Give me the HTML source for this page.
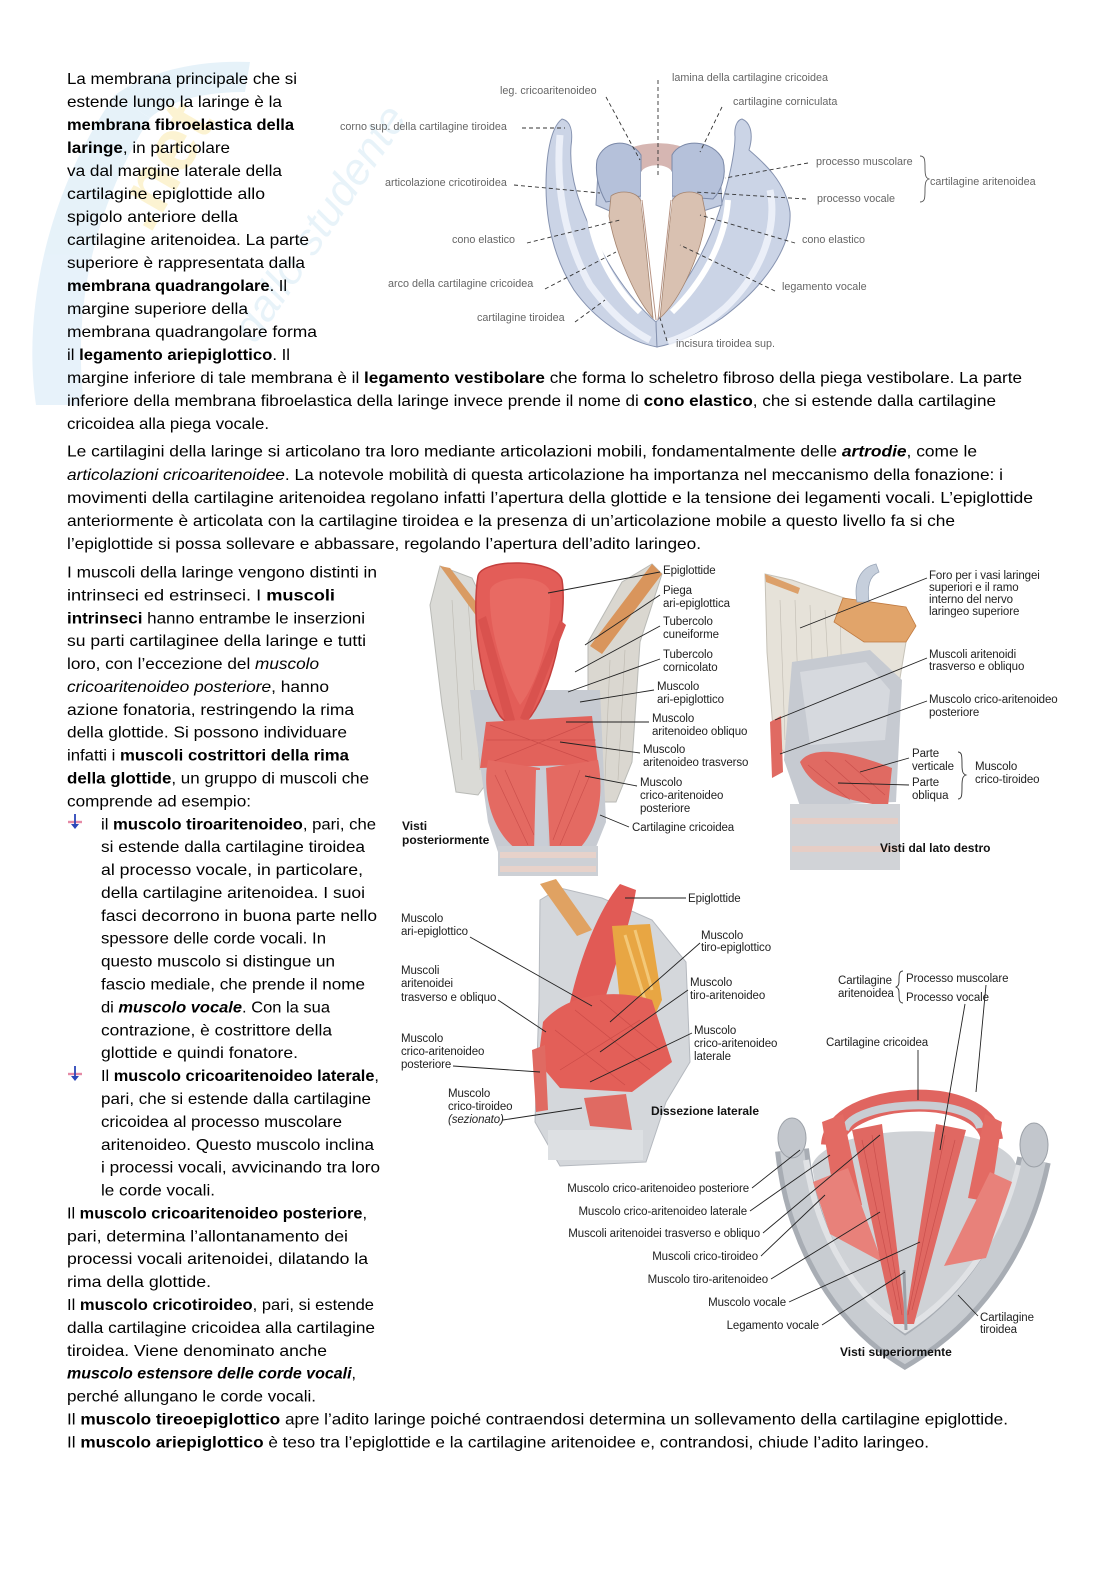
<!DOCTYPE html>
<html>
<head>
<meta charset="utf-8">
<style>
html,body{margin:0;padding:0;background:#fff;}
svg{display:block;}
.t{font-family:"Liberation Sans",Arial,sans-serif;font-size:16px;fill:#000;}
.l1{font-family:"Liberation Sans",Arial,sans-serif;font-size:10.8px;fill:#666;}
.l2{font-family:"Liberation Sans",Arial,sans-serif;font-size:11.5px;fill:#222;letter-spacing:-0.1px;}
.cap{font-family:"Liberation Sans",Arial,sans-serif;font-size:12px;font-weight:bold;fill:#111;}
.dl{stroke:#333;stroke-width:0.9;stroke-dasharray:4,3;fill:none;}
.ln{stroke:#222;stroke-width:0.9;fill:none;}
.fib{stroke:#b83a3a;stroke-width:0.7;opacity:0.55;fill:none;}
.fibg{stroke:#a9a49a;stroke-width:0.6;opacity:0.6;fill:none;}
</style>
</head>
<body>
<svg width="1116" height="1579" viewBox="0 0 1116 1579" xmlns="http://www.w3.org/2000/svg">
<rect width="1116" height="1579" fill="#fff"/>

<!-- watermark -->
<g opacity="0.5">
  <path d="M36,405 C22,310 48,190 115,95 L150,118 C95,205 72,305 84,405 Z" fill="#cfe6f5"/>
  <path d="M115,95 C150,70 200,60 250,62 L245,92 C205,92 170,100 150,118 Z" fill="#cfe6f5"/>
  <text transform="translate(150,235) rotate(-60)" font-family="Liberation Sans, sans-serif" font-size="74" font-weight="bold" fill="#fbe9a6">.net</text>
  <text transform="translate(255,345) rotate(-56)" font-family="Liberation Sans, sans-serif" font-size="44" font-style="italic" fill="#d3e8f5">dallo studente</text>
</g>

<!-- ============ TEXT: upper column ============ -->
<g class="t">
<text x="67" y="84" textLength="230" lengthAdjust="spacingAndGlyphs">La membrana principale che si</text>
<text x="67" y="107" textLength="215" lengthAdjust="spacingAndGlyphs">estende lungo la laringe è la</text>
<text x="67" y="130" textLength="227" lengthAdjust="spacingAndGlyphs" font-weight="bold">membrana fibroelastica della</text>
<text x="67" y="153" textLength="163" lengthAdjust="spacingAndGlyphs"><tspan font-weight="bold">laringe</tspan>, in particolare</text>
<text x="67" y="176" textLength="215" lengthAdjust="spacingAndGlyphs">va dal margine laterale della</text>
<text x="67" y="199" textLength="198" lengthAdjust="spacingAndGlyphs">cartilagine epiglottide allo</text>
<text x="67" y="222" textLength="171" lengthAdjust="spacingAndGlyphs">spigolo anteriore della</text>
<text x="67" y="245" textLength="242" lengthAdjust="spacingAndGlyphs">cartilagine aritenoidea. La parte</text>
<text x="67" y="268" textLength="238" lengthAdjust="spacingAndGlyphs">superiore è rappresentata dalla</text>
<text x="67" y="291" textLength="220" lengthAdjust="spacingAndGlyphs"><tspan font-weight="bold">membrana quadrangolare</tspan>. Il</text>
<text x="67" y="314" textLength="181" lengthAdjust="spacingAndGlyphs">margine superiore della</text>
<text x="67" y="337" textLength="250" lengthAdjust="spacingAndGlyphs">membrana quadrangolare forma</text>
<text x="67" y="360" textLength="223" lengthAdjust="spacingAndGlyphs">il <tspan font-weight="bold">legamento ariepiglottico</tspan>. Il</text>
<text x="67" y="383" textLength="955" lengthAdjust="spacingAndGlyphs">margine inferiore di tale membrana è il <tspan font-weight="bold">legamento vestibolare</tspan> che forma lo scheletro fibroso della piega vestibolare. La parte</text>
<text x="67" y="406" textLength="929" lengthAdjust="spacingAndGlyphs">inferiore della membrana fibroelastica della laringe invece prende il nome di <tspan font-weight="bold">cono elastico</tspan>, che si estende dalla cartilagine</text>
<text x="67" y="429" textLength="202" lengthAdjust="spacingAndGlyphs">cricoidea alla piega vocale.</text>

<text x="67" y="456.7" textLength="910" lengthAdjust="spacingAndGlyphs">Le cartilagini della laringe si articolano tra loro mediante articolazioni mobili, fondamentalmente delle <tspan font-weight="bold" font-style="italic">artrodie</tspan>, come le</text>
<text x="67" y="479.8" textLength="936" lengthAdjust="spacingAndGlyphs"><tspan font-style="italic">articolazioni cricoaritenoidee</tspan>. La notevole mobilità di questa articolazione ha importanza nel meccanismo della fonazione: i</text>
<text x="67" y="502.9" textLength="966" lengthAdjust="spacingAndGlyphs">movimenti della cartilagine aritenoidea regolano infatti l’apertura della glottide e la tensione dei legamenti vocali. L’epiglottide</text>
<text x="67" y="526" textLength="888" lengthAdjust="spacingAndGlyphs">anteriormente è articolata con la cartilagine tiroidea e la presenza di un’articolazione mobile a questo livello fa si che</text>
<text x="67" y="549.1" textLength="634" lengthAdjust="spacingAndGlyphs">l’epiglottide si possa sollevare e abbassare, regolando l’apertura dell’adito laringeo.</text>

<!-- lower column -->
<text x="67" y="577.5" textLength="310" lengthAdjust="spacingAndGlyphs">I muscoli della laringe vengono distinti in</text>
<text x="67" y="600.4" textLength="268" lengthAdjust="spacingAndGlyphs">intrinseci ed estrinseci. I <tspan font-weight="bold">muscoli</tspan></text>
<text x="67" y="623.3" textLength="298" lengthAdjust="spacingAndGlyphs"><tspan font-weight="bold">intrinseci</tspan> hanno entrambe le inserzioni</text>
<text x="67" y="646.2" textLength="299" lengthAdjust="spacingAndGlyphs">su parti cartilaginee della laringe e tutti</text>
<text x="67" y="669.1" textLength="252" lengthAdjust="spacingAndGlyphs">loro, con l’eccezione del <tspan font-style="italic">muscolo</tspan></text>
<text x="67" y="691.9" textLength="262" lengthAdjust="spacingAndGlyphs"><tspan font-style="italic">cricoaritenoideo posteriore</tspan>, hanno</text>
<text x="67" y="714.8" textLength="287" lengthAdjust="spacingAndGlyphs">azione fonatoria, restringendo la rima</text>
<text x="67" y="737.7" textLength="280" lengthAdjust="spacingAndGlyphs">della glottide. Si possono individuare</text>
<text x="67" y="760.6" textLength="282" lengthAdjust="spacingAndGlyphs">infatti i <tspan font-weight="bold">muscoli costrittori della rima</tspan></text>
<text x="67" y="783.5" textLength="302" lengthAdjust="spacingAndGlyphs"><tspan font-weight="bold">della glottide</tspan>, un gruppo di muscoli che</text>
<text x="67" y="806.4" textLength="184" lengthAdjust="spacingAndGlyphs">comprende ad esempio:</text>
<text x="101" y="829.3" textLength="275" lengthAdjust="spacingAndGlyphs">il <tspan font-weight="bold">muscolo tiroaritenoideo</tspan>, pari, che</text>
<text x="101" y="852.2" textLength="264" lengthAdjust="spacingAndGlyphs">si estende dalla cartilagine tiroidea</text>
<text x="101" y="875.1" textLength="262" lengthAdjust="spacingAndGlyphs">al processo vocale, in particolare,</text>
<text x="101" y="898" textLength="264" lengthAdjust="spacingAndGlyphs">della cartilagine aritenoidea. I suoi</text>
<text x="101" y="920.9" textLength="276" lengthAdjust="spacingAndGlyphs">fasci decorrono in buona parte nello</text>
<text x="101" y="943.7" textLength="225" lengthAdjust="spacingAndGlyphs">spessore delle corde vocali. In</text>
<text x="101" y="966.6" textLength="234" lengthAdjust="spacingAndGlyphs">questo muscolo si distingue un</text>
<text x="101" y="989.5" textLength="264" lengthAdjust="spacingAndGlyphs">fascio mediale, che prende il nome</text>
<text x="101" y="1012.4" textLength="229" lengthAdjust="spacingAndGlyphs">di <tspan font-weight="bold" font-style="italic">muscolo vocale</tspan>. Con la sua</text>
<text x="101" y="1035.3" textLength="231" lengthAdjust="spacingAndGlyphs">contrazione, è costrittore della</text>
<text x="101" y="1058.2" textLength="197" lengthAdjust="spacingAndGlyphs">glottide e quindi fonatore.</text>
<text x="101" y="1081.1" textLength="278" lengthAdjust="spacingAndGlyphs">Il <tspan font-weight="bold">muscolo cricoaritenoideo laterale</tspan>,</text>
<text x="101" y="1104" textLength="270" lengthAdjust="spacingAndGlyphs">pari, che si estende dalla cartilagine</text>
<text x="101" y="1126.9" textLength="241" lengthAdjust="spacingAndGlyphs">cricoidea al processo muscolare</text>
<text x="101" y="1149.8" textLength="273" lengthAdjust="spacingAndGlyphs">aritenoideo. Questo muscolo inclina</text>
<text x="101" y="1172.6" textLength="279" lengthAdjust="spacingAndGlyphs">i processi vocali, avvicinando tra loro</text>
<text x="101" y="1195.5" textLength="114" lengthAdjust="spacingAndGlyphs">le corde vocali.</text>
<text x="67" y="1218.4" textLength="300" lengthAdjust="spacingAndGlyphs">Il <tspan font-weight="bold">muscolo cricoaritenoideo posteriore</tspan>,</text>
<text x="67" y="1241.3" textLength="281" lengthAdjust="spacingAndGlyphs">pari, determina l’allontanamento dei</text>
<text x="67" y="1264.2" textLength="301" lengthAdjust="spacingAndGlyphs">processi vocali aritenoidei, dilatando la</text>
<text x="67" y="1287.1" textLength="144" lengthAdjust="spacingAndGlyphs">rima della glottide.</text>
<text x="67" y="1310" textLength="307" lengthAdjust="spacingAndGlyphs">Il <tspan font-weight="bold">muscolo cricotiroideo</tspan>, pari, si estende</text>
<text x="67" y="1332.9" textLength="308" lengthAdjust="spacingAndGlyphs">dalla cartilagine cricoidea alla cartilagine</text>
<text x="67" y="1355.8" textLength="260" lengthAdjust="spacingAndGlyphs">tiroidea. Viene denominato anche</text>
<text x="67" y="1378.7" textLength="289" lengthAdjust="spacingAndGlyphs"><tspan font-weight="bold" font-style="italic">muscolo estensore delle corde vocali</tspan>,</text>
<text x="67" y="1401.5" textLength="249" lengthAdjust="spacingAndGlyphs">perché allungano le corde vocali.</text>
<text x="67" y="1424.4" textLength="941" lengthAdjust="spacingAndGlyphs">Il <tspan font-weight="bold">muscolo tireoepiglottico</tspan> apre l’adito laringe poiché contraendosi determina un sollevamento della cartilagine epiglottide.</text>
<text x="67" y="1447.3" textLength="862" lengthAdjust="spacingAndGlyphs">Il <tspan font-weight="bold">muscolo ariepiglottico</tspan> è teso tra l’epiglottide e la cartilagine aritenoidee e, contrandosi, chiude l’adito laringeo.</text>
</g>

<!-- bullets -->
<g>
  <line x1="68" y1="822" x2="82" y2="822" stroke="#e58aa6" stroke-width="2.4"/>
  <line x1="75" y1="814" x2="75" y2="827" stroke="#2b46b8" stroke-width="1.8"/>
  <path d="M71,824 L79,824 L75,829 Z" fill="#2b46b8"/>
  <line x1="68" y1="1074" x2="82" y2="1074" stroke="#e58aa6" stroke-width="2.4"/>
  <line x1="75" y1="1066" x2="75" y2="1079" stroke="#2b46b8" stroke-width="1.8"/>
  <path d="M71,1076 L79,1076 L75,1081 Z" fill="#2b46b8"/>
</g>

<!-- ============ FIG 1 ============ -->
<g>
  <path d="M562,119 C571,121 573,132 571,146 C569,176 579,206 596,240 C613,275 636,305 656,322 L657,347 C625,341 594,318 574,290 C555,260 546,225 546,186 C546,158 550,128 562,119 Z" fill="#cbd4e6" stroke="#8693b0" stroke-width="1"/>
  <path d="M560,135 C556,180 562,235 590,285 C610,312 630,330 650,340" stroke="#eef2f9" stroke-width="7" fill="none" opacity="0.9"/>
  <path d="M742,119 C752,123 753,137 749,150 C763,162 786,182 790,212 C792,247 765,286 722,318 C697,335 673,344 657,347 L656,322 C681,292 706,252 719,212 C729,182 735,152 735,137 C734,127 737,120 742,119 Z" fill="#cbd4e6" stroke="#8693b0" stroke-width="1"/>
  <path d="M770,190 C778,230 760,275 725,308 C705,325 685,337 668,342" stroke="#eef2f9" stroke-width="7" fill="none" opacity="0.9"/>
  <path d="M588,200 C590,245 612,285 640,312" stroke="#fff" stroke-width="6" fill="none"/>
  <path d="M728,200 C725,245 700,285 672,312" stroke="#fff" stroke-width="6" fill="none"/>
  <path d="M598,172 C598,138 716,138 720,172 L722,205 L700,212 L612,212 L596,205 Z" fill="#c1cbe0" stroke="#8693b0"/>
  <path d="M628,150 C640,141 676,141 688,150 L682,176 L634,176 Z" fill="#d6b6b2"/>
  <path d="M597,160 C604,139 630,138 641,155 L641,196 L606,202 C598,188 595,173 597,160 Z" fill="#b5c1da" stroke="#7b89a8"/>
  <path d="M672,155 C681,138 713,139 723,160 C727,176 721,191 713,199 L672,196 Z" fill="#b5c1da" stroke="#7b89a8"/>
  <path d="M611,196 C618,190 636,190 641,201 L653,318 C636,300 615,252 609,216 Z" fill="#d9c1b1" stroke="#a4846f" stroke-width="0.8"/>
  <path d="M702,196 C695,190 678,190 672,201 L660,318 C681,299 702,252 706,216 Z" fill="#d9c1b1" stroke="#a4846f" stroke-width="0.8"/>
  <path d="M641,172 C646,163 668,163 672,172 L672,202 L657,322 L641,202 Z" fill="#fff"/>
  <line x1="642" y1="200" x2="656" y2="320" stroke="#b89484" stroke-width="1"/>
  <line x1="671" y1="200" x2="658" y2="320" stroke="#b89484" stroke-width="1"/>

  <line class="dl" x1="658" y1="80" x2="658" y2="175"/>
  <line class="dl" x1="606" y1="97" x2="640" y2="160"/>
  <line class="dl" x1="722" y1="107" x2="700" y2="152"/>
  <line class="dl" x1="522" y1="128" x2="565" y2="128"/>
  <line class="dl" x1="808" y1="163" x2="725" y2="178"/>
  <line class="dl" x1="514" y1="185" x2="600" y2="193"/>
  <line class="dl" x1="806" y1="199" x2="695" y2="192"/>
  <line class="dl" x1="527" y1="243" x2="620" y2="220"/>
  <line class="dl" x1="795" y1="243" x2="700" y2="215"/>
  <line class="dl" x1="545" y1="289" x2="616" y2="252"/>
  <line class="dl" x1="775" y1="291" x2="680" y2="245"/>
  <line class="dl" x1="575" y1="322" x2="605" y2="300"/>
  <line class="dl" x1="667" y1="341" x2="660" y2="318"/>
  <path d="M920,156 C925,156 925,160 925,168 C925,176 926,178 929,179 C926,180 925,182 925,190 C925,198 925,202 920,202" fill="none" stroke="#555" stroke-width="0.9"/>

  <g class="l1">
    <text x="672" y="81">lamina della cartilagine cricoidea</text>
    <text x="500" y="94">leg. cricoaritenoideo</text>
    <text x="733" y="105">cartilagine corniculata</text>
    <text x="340" y="130">corno sup. della cartilagine tiroidea</text>
    <text x="816" y="165">processo muscolare</text>
    <text x="930" y="185">cartilagine aritenoidea</text>
    <text x="385" y="186">articolazione cricotiroidea</text>
    <text x="817" y="202">processo vocale</text>
    <text x="452" y="243">cono  elastico</text>
    <text x="802" y="243">cono  elastico</text>
    <text x="388" y="287">arco della cartilagine cricoidea</text>
    <text x="782" y="290">legamento vocale</text>
    <text x="477" y="321">cartilagine tiroidea</text>
    <text x="676" y="347">incisura tiroidea sup.</text>
  </g>
</g>

<!-- ============ FIG 2 left: posterior view ============ -->
<g>
  <path d="M440,566 L472,578 L502,640 L502,762 L478,795 L456,792 L442,705 L430,605 Z" fill="#dadad6" stroke="#b9bab6"/>
  <path d="M452,600 L462,760 M468,600 L480,770 M485,620 L492,770" class="fibg"/>
  <path d="M440,566 L450,568 L496,628 L488,632 Z" fill="#d99b63"/>
  <path d="M652,564 L662,574 L640,642 L632,762 L616,802 L588,802 L588,642 L622,582 Z" fill="#dad7d0" stroke="#b9bab6"/>
  <path d="M652,564 L662,574 L602,654 L590,646 Z" fill="#d9955c"/>
  <path d="M610,660 L605,780 M625,650 L618,780" class="fibg"/>
  <path d="M470,690 L600,690 L606,822 L594,852 L498,852 L488,822 Z" fill="#c7cbd2"/>
  <path d="M478,576 C482,558 556,558 562,580 C567,612 556,680 531,716 C521,728 510,728 500,716 C478,682 472,612 478,576 Z" fill="#e35d58" stroke="#c43f3d" stroke-width="1.5"/>
  <path d="M490,590 C495,575 545,573 550,592 C552,630 540,680 520,705 C505,680 488,630 490,590 Z" fill="#e86a63"/>
  <path d="M478,620 L486,616 L515,720 L506,724 Z" fill="#d9524e"/>
  <path d="M560,620 L566,625 L528,722 L520,718 Z" fill="#d9524e"/>
  <path d="M486,722 L592,716 L598,764 L480,768 Z" fill="#e2625b"/>
  <path d="M490,725 L590,762 M492,762 L590,722 M486,740 L596,740" class="fib"/>
  <path d="M488,760 C482,790 490,832 520,852 L536,852 L540,768 Z" fill="#e46a62"/>
  <path d="M546,768 L550,852 L576,852 C600,830 604,792 598,760 Z" fill="#e46a62"/>
  <path d="M495,775 L528,845 M505,770 L534,835 M590,775 L560,845 M580,770 L553,840" class="fib"/>
  <path d="M536,770 L546,770 L548,852 L534,852 Z" fill="#c9ced6"/>
  <rect x="498" y="846" width="100" height="30" fill="#cdd0d5"/>
  <rect x="500" y="852" width="96" height="6" fill="#e7d2ca"/>
  <rect x="500" y="866" width="96" height="6" fill="#e7d2ca"/>
</g>

<!-- ============ FIG 2 right: lateral view ============ -->
<g>
  <path d="M765,574 L792,580 L850,600 L906,614 L906,642 L896,702 L882,762 L800,768 L774,742 L767,652 Z" fill="#e6e2d9" stroke="#c6c2b8"/>
  <path d="M780,600 L785,740 M795,600 L800,745 M810,605 L815,740 M825,610 L830,700 M840,612 L842,690" class="fibg"/>
  <path d="M765,574 L800,588 L798,594 L766,582 Z" fill="#dca06a"/>
  <path d="M843,598 L906,607 L916,626 L906,642 L864,642 L834,622 Z" fill="#e1a46a" stroke="#c07a40" stroke-width="0.8"/>
  <path d="M857,602 C853,580 862,567 876,564 L879,572 C869,576 867,587 869,602 Z" fill="#c6cfdc" stroke="#9aa6b8" stroke-width="0.8"/>
  <path d="M792,662 L870,650 L902,680 L896,802 L800,806 L784,760 Z" fill="#c6cad1"/>
  <path d="M800,672 L866,662 L890,690 L885,740 L810,745 Z" fill="#d6d9de"/>
  <path d="M800,762 C812,744 852,752 892,768 L888,806 C850,802 812,792 800,762 Z" fill="#e06a62"/>
  <path d="M808,765 L850,800 M825,760 L870,800 M845,760 L885,795" class="fib"/>
  <path d="M770,722 L781,716 L783,772 L772,778 Z" fill="#e06a62"/>
  <rect x="790" y="804" width="110" height="66" fill="#d1d3d7"/>
  <rect x="792" y="818" width="106" height="6" fill="#e6cdc5"/>
  <rect x="792" y="846" width="106" height="6" fill="#e6cdc5"/>
</g>

<!-- FIG 2 leaders & labels -->
<g>
  <line class="ln" x1="660" y1="572" x2="548" y2="593"/>
  <line class="ln" x1="660" y1="595" x2="585" y2="645"/>
  <line class="ln" x1="660" y1="626" x2="575" y2="672"/>
  <line class="ln" x1="660" y1="659" x2="568" y2="692"/>
  <line class="ln" x1="654" y1="690" x2="580" y2="702"/>
  <line class="ln" x1="649" y1="722" x2="566" y2="722"/>
  <line class="ln" x1="640" y1="753" x2="560" y2="742"/>
  <line class="ln" x1="637" y1="786" x2="585" y2="776"/>
  <line class="ln" x1="629" y1="827" x2="600" y2="815"/>
  <line class="ln" x1="927" y1="578" x2="800" y2="628"/>
  <line class="ln" x1="927" y1="658" x2="775" y2="720"/>
  <line class="ln" x1="927" y1="701" x2="780" y2="754"/>
  <line class="ln" x1="909" y1="758" x2="860" y2="772"/>
  <line class="ln" x1="909" y1="785" x2="838" y2="783"/>
  <path d="M958,752 C962,752 962,756 962,765 C962,772 963,774 966,775 C963,776 962,778 962,786 C962,795 962,799 958,799" fill="none" stroke="#333" stroke-width="0.9"/>
  <g class="l2">
    <text x="663" y="574">Epiglottide</text>
    <text x="663" y="594">Piega</text>
    <text x="663" y="607">ari-epiglottica</text>
    <text x="663" y="625">Tubercolo</text>
    <text x="663" y="638">cuneiforme</text>
    <text x="663" y="658">Tubercolo</text>
    <text x="663" y="671">cornicolato</text>
    <text x="657" y="690">Muscolo</text>
    <text x="657" y="703">ari-epiglottico</text>
    <text x="652" y="722">Muscolo</text>
    <text x="652" y="735">aritenoideo obliquo</text>
    <text x="643" y="753">Muscolo</text>
    <text x="643" y="766">aritenoideo trasverso</text>
    <text x="640" y="786">Muscolo</text>
    <text x="640" y="799">crico-aritenoideo</text>
    <text x="640" y="812">posteriore</text>
    <text x="632" y="831">Cartilagine cricoidea</text>
    <text x="929" y="579">Foro per i vasi laringei</text>
    <text x="929" y="591">superiori e il ramo</text>
    <text x="929" y="603">interno del nervo</text>
    <text x="929" y="615">laringeo superiore</text>
    <text x="929" y="658">Muscoli aritenoidi</text>
    <text x="929" y="670">trasverso e obliquo</text>
    <text x="929" y="703">Muscolo crico-aritenoideo</text>
    <text x="929" y="716">posteriore</text>
    <text x="912" y="757">Parte</text>
    <text x="912" y="770">verticale</text>
    <text x="912" y="786">Parte</text>
    <text x="912" y="799">obliqua</text>
    <text x="975" y="770">Muscolo</text>
    <text x="975" y="783">crico-tiroideo</text>
  </g>
  <text class="cap" x="402" y="830">Visti</text>
  <text class="cap" x="402" y="844">posteriormente</text>
  <text class="cap" x="880" y="852">Visti dal lato destro</text>
</g>

<!-- ============ FIG 3 lateral dissection ============ -->
<g>
  <path d="M540,900 L560,888 L602,898 L652,920 L686,962 L690,1062 L666,1102 L646,1162 L560,1166 L535,1122 L539,1002 Z" fill="#d4d7db" stroke="#b5b9bf"/>
  <path d="M540,884 L556,879 L592,930 L577,936 Z" fill="#e0a262"/>
  <path d="M568,1012 C578,962 598,910 620,884 L636,890 C631,922 616,962 601,1012 Z" fill="#e15a55"/>
  <path d="M612,926 L650,924 L662,1000 L642,1042 L620,1002 Z" fill="#e8a643"/>
  <path d="M625,935 L645,1000 M635,930 L652,990" stroke="#f3c878" stroke-width="3" fill="none"/>
  <path d="M543,1022 C570,990 622,990 652,1000 L672,1062 L632,1092 L560,1088 L538,1062 Z" fill="#e35f58"/>
  <path d="M555,1030 L625,1085 M575,1010 L650,1070 M600,1000 L660,1050 M560,1070 L640,1020" class="fib"/>
  <path d="M532,1050 L545,1045 L548,1110 L536,1112 Z" fill="#e06a62"/>
  <path d="M584,1098 L626,1094 L632,1130 L590,1126 Z" fill="#e06a62"/>
  <rect x="548" y="1130" width="95" height="30" fill="#dde0e3"/>
  <line class="ln" x1="686" y1="898" x2="625" y2="898"/>
  <line class="ln" x1="470" y1="937" x2="592" y2="1006"/>
  <line class="ln" x1="700" y1="943" x2="610" y2="1022"/>
  <line class="ln" x1="498" y1="1000" x2="546" y2="1032"/>
  <line class="ln" x1="688" y1="990" x2="600" y2="1052"/>
  <line class="ln" x1="692" y1="1033" x2="590" y2="1082"/>
  <line class="ln" x1="453" y1="1066" x2="540" y2="1072"/>
  <line class="ln" x1="503" y1="1120" x2="582" y2="1108"/>
  <g class="l2">
    <text x="688" y="902">Epiglottide</text>
    <text x="401" y="922">Muscolo</text>
    <text x="401" y="935">ari-epiglottico</text>
    <text x="701" y="939">Muscolo</text>
    <text x="701" y="951">tiro-epiglottico</text>
    <text x="401" y="974">Muscoli</text>
    <text x="401" y="987">aritenoidei</text>
    <text x="401" y="1001">trasverso e obliquo</text>
    <text x="690" y="986">Muscolo</text>
    <text x="690" y="999">tiro-aritenoideo</text>
    <text x="694" y="1034">Muscolo</text>
    <text x="694" y="1047">crico-aritenoideo</text>
    <text x="694" y="1060">laterale</text>
    <text x="401" y="1042">Muscolo</text>
    <text x="401" y="1055">crico-aritenoideo</text>
    <text x="401" y="1068">posteriore</text>
    <text x="448" y="1097">Muscolo</text>
    <text x="448" y="1110">crico-tiroideo</text>
    <text x="448" y="1123" font-style="italic">(sezionato)</text>
  </g>
  <text class="cap" x="651" y="1115">Dissezione laterale</text>
</g>

<!-- ============ FIG 3 superior view ============ -->
<g>
  <path d="M792,1150 C802,1245 850,1315 905,1350 C962,1315 1014,1255 1034,1160" fill="none" stroke="#a8adb4" stroke-width="34"/>
  <path d="M792,1150 C802,1245 850,1315 905,1350 C962,1315 1014,1255 1034,1160" fill="none" stroke="#c8ccd1" stroke-width="24"/>
  <path d="M806,1160 C818,1240 858,1300 905,1330 C952,1300 1000,1245 1018,1165" fill="none" stroke="#e0e2e5" stroke-width="6"/>
  <ellipse cx="792" cy="1138" rx="14" ry="20" fill="#c2c6cc" stroke="#9ca1a8"/>
  <ellipse cx="1034" cy="1145" rx="14" ry="22" fill="#c2c6cc" stroke="#9ca1a8"/>
  <path d="M812,1165 C822,1240 860,1298 905,1326 C950,1298 996,1245 1016,1165 C1000,1120 830,1120 812,1165 Z" fill="#cfd2d6"/>
  <path d="M832,1145 C835,1092 985,1082 992,1140" fill="none" stroke="#e06560" stroke-width="22"/>
  <path d="M845,1130 C852,1100 975,1095 980,1128" fill="none" stroke="#c9cdd3" stroke-width="8"/>
  <path d="M822,1122 L843,1114 L862,1205 L836,1206 Z" fill="#e36a63"/>
  <path d="M985,1114 L1002,1122 L990,1202 L968,1198 Z" fill="#e36a63"/>
  <path d="M813,1182 L848,1168 L882,1262 L830,1234 Z" fill="#e8817a"/>
  <path d="M990,1172 L1012,1182 L986,1258 L944,1266 Z" fill="#e8817a"/>
  <path d="M852,1130 L882,1124 L906,1324 L894,1324 Z" fill="#e06862"/>
  <path d="M936,1124 L966,1130 L914,1324 L905,1324 Z" fill="#e06862"/>
  <path d="M862,1140 L898,1310 M872,1135 L902,1315 M955,1140 L912,1310 M945,1135 L908,1315" class="fib"/>
  <line x1="904" y1="1270" x2="906" y2="1330" stroke="#9ca1a8" stroke-width="3"/>
  <line class="ln" x1="752" y1="1188" x2="800" y2="1150"/>
  <line class="ln" x1="750" y1="1211" x2="830" y2="1155"/>
  <line class="ln" x1="763" y1="1233" x2="880" y2="1135"/>
  <line class="ln" x1="761" y1="1256" x2="825" y2="1195"/>
  <line class="ln" x1="771" y1="1279" x2="880" y2="1212"/>
  <line class="ln" x1="789" y1="1302" x2="920" y2="1242"/>
  <line class="ln" x1="822" y1="1325" x2="905" y2="1272"/>
  <line class="ln" x1="978" y1="1316" x2="958" y2="1295"/>
  <line class="ln" x1="986" y1="985" x2="976" y2="1092"/>
  <line class="ln" x1="965" y1="1004" x2="940" y2="1150"/>
  <line class="ln" x1="918" y1="1050" x2="918" y2="1100"/>
  <path d="M903,971 C899,971 899,975 899,981 C899,985 898,986 896,987 C898,988 899,989 899,993 C899,999 899,1003 903,1003" fill="none" stroke="#333" stroke-width="0.9"/>
  <g class="l2">
    <text x="749" y="1192" text-anchor="end">Muscolo crico-aritenoideo posteriore</text>
    <text x="747" y="1215" text-anchor="end">Muscolo crico-aritenoideo laterale</text>
    <text x="760" y="1237" text-anchor="end">Muscoli aritenoidei trasverso e obliquo</text>
    <text x="758" y="1260" text-anchor="end">Muscoli crico-tiroideo</text>
    <text x="768" y="1283" text-anchor="end">Muscolo tiro-aritenoideo</text>
    <text x="786" y="1306" text-anchor="end">Muscolo vocale</text>
    <text x="819" y="1329" text-anchor="end">Legamento vocale</text>
    <text x="980" y="1321">Cartilagine</text>
    <text x="980" y="1333">tiroidea</text>
    <text x="838" y="984">Cartilagine</text>
    <text x="838" y="997">aritenoidea</text>
    <text x="906" y="982">Processo muscolare</text>
    <text x="906" y="1001">Processo vocale</text>
    <text x="826" y="1046">Cartilagine cricoidea</text>
  </g>
  <text class="cap" x="840" y="1356">Visti superiormente</text>
</g>
</svg>
</body>
</html>
